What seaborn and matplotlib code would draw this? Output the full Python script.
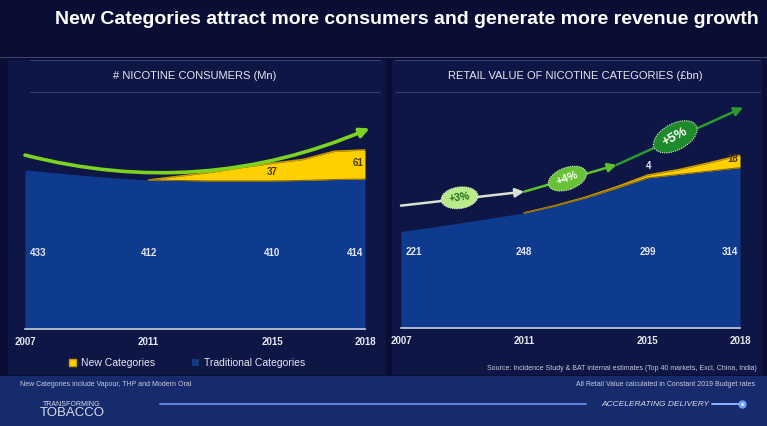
import seaborn as sns
from matplotlib import pyplot as plt
from matplotlib.patches import Patch, Rectangle
import numpy as np

years = list(range(2007, 2019))
consumers_trad = [433, 427, 421, 416, 412, 411, 410, 410, 410, 411, 413, 414]
consumers_new = [0, 0, 0, 0, 0, 9, 18, 28, 37, 44, 59, 61]
value_trad = [221, 227, 234, 241, 248, 258, 270, 284, 299, 304, 309, 314]
value_new = [0, 0, 0, 0, 0, 0.5, 1, 2, 4, 7, 12, 18]
label_years = [2007, 2011, 2015, 2018]
growth_labels = ['+3%', '+4%', '+5%']

BG = '#0a0e35'
TRAD = '#0f3b8e'
NEW = '#ffd000'
NEW_EDGE = '#c99a00'
TXT = '#e4e8f2'


def px(x, y):
    return x / 767, 1 - y / 426


def base_axis(ax):
    ax.set_facecolor('none')
    ax.set_xlim(2007, 2018)
    ax.set_xticks(years)
    ax.set_xticklabels([str(y) if y in label_years else '' for y in years])
    ax.set_yticks([])
    ax.grid(False)
    for s in ['top', 'left', 'right']:
        ax.spines[s].set_visible(False)
    ax.spines['bottom'].set_color('#c8ccd8')
    ax.spines['bottom'].set_linewidth(1.2)
    ax.tick_params(axis='x', direction='in', length=3, width=1, color='#c8ccd8',
                   labelcolor=TXT, labelsize=7, pad=6)
    for t in ax.get_xticklabels():
        t.set_fontweight('bold')
    ax.set_xlabel('')
    ax.set_ylabel('')


def stacked(ax, trad, new):
    trad = np.array(trad, float)
    top = trad + np.array(new, float)
    ax.fill_between(years, 0, trad, color=TRAD, lw=0, zorder=1)
    has_new = np.array(years) >= 2011
    ax.fill_between(years, trad, top, where=has_new, color=NEW, lw=0, zorder=2)
    sns.lineplot(x=np.array(years)[has_new], y=top[has_new], ax=ax, color=NEW_EDGE, lw=1.2, zorder=3)
    sns.lineplot(x=np.array(years)[has_new], y=trad[has_new], ax=ax, color='#8a6a00', lw=0.8, zorder=3)
    return trad, top


def trad_labels(ax, trad):
    tr = ax.get_xaxis_transform()
    for y in label_years:
        i = years.index(y)
        ha = 'left' if y == 2007 else ('right' if y == 2018 else 'center')
        x = y + (0.15 if y == 2007 else (-0.05 if y == 2018 else 0))
        ax.text(x, 0.325, f'{trad[i]:.0f}', transform=tr, ha=ha, va='center',
                color=TXT, fontsize=7, fontweight='bold')


sns.set_theme(style='dark')
plt.rcParams['font.family'] = ['Liberation Sans', 'DejaVu Sans']

fig = plt.figure(figsize=(7.67, 4.26), dpi=100, facecolor=BG)

# background panels and bands
for x0, w in [(8, 378), (392, 370)]:
    fig.patches.append(Rectangle(px(x0, 375), w / 767, 315 / 426, transform=fig.transFigure,
                                 facecolor='#0d1645', edgecolor='none', zorder=-2))
fig.patches.append(Rectangle(px(0, 426), 1, 50 / 426, transform=fig.transFigure,
                             facecolor='#172a6c', edgecolor='none', zorder=-2))
for x0, x1 in [(30, 380), (395, 760)]:
    for yy in (60, 92):
        fig.lines.append(plt.Line2D([x0 / 767, x1 / 767], [px(0, yy)[1]] * 2,
                                    transform=fig.transFigure, color='#5a6290', lw=0.6, alpha=0.7,
                                    zorder=-1))
fig.lines.append(plt.Line2D([0, 1], [px(0, 57)[1]] * 2, transform=fig.transFigure,
                            color='#4a4f78', lw=0.6, zorder=-1))

fig.text(*px(407, 19), 'New Categories attract more consumers and generate more revenue growth',
         ha='center', va='center', color='white', fontsize=14, fontweight='bold')
fig.text(*px(195, 76), '# NICOTINE CONSUMERS (Mn)', ha='center', va='center', color=TXT, fontsize=8)
fig.text(*px(575, 76), 'RETAIL VALUE OF NICOTINE CATEGORIES (\u00a3bn)', ha='center', va='center',
         color=TXT, fontsize=8)

# left panel
ax1 = fig.add_axes([25 / 767, 1 - 329 / 426, 340 / 767, 234 / 426])
ax1.set_ylim(100, 590)
trad, top = stacked(ax1, consumers_trad, consumers_new)
base_axis(ax1)
trad_labels(ax1, trad)
i15, i18 = years.index(2015), years.index(2018)
ax1.text(2015, (trad[i15] + top[i15]) / 2, f'{consumers_new[i15]}', ha='center', va='center',
         color='#4a3a00', fontsize=7, fontweight='bold', zorder=4)
ax1.text(2017.95, (trad[i18] + top[i18]) / 2 + 4, f'{consumers_new[i18]}', ha='right', va='center',
         color='#4a3a00', fontsize=7, fontweight='bold', zorder=4)
ax1.annotate('', xy=(2018.15, top[-1] * 1.095), xytext=(2007, trad[0] * 1.072),
             arrowprops=dict(arrowstyle='-|>', color='#7ed321', lw=2.6, mutation_scale=14,
                             connectionstyle='arc3,rad=0.17', shrinkA=0, shrinkB=0),
             annotation_clip=False, zorder=5)

# right panel
ax2 = fig.add_axes([401 / 767, 1 - 328 / 426, 339 / 767, 233 / 426])
ax2.set_ylim(80, 420)
trad2, top2 = stacked(ax2, value_trad, value_new)
base_axis(ax2)
trad_labels(ax2, trad2)
ax2.text(2015.05, top2[i15] + 6, f'{value_new[i15]}', ha='center', va='bottom',
         color=TXT, fontsize=7, fontweight='bold', zorder=4)
ax2.text(2017.95, (trad2[i18] + top2[i18]) / 2 + 3, f'{value_new[i18]}', ha='right', va='center',
         color='#4a3a00', fontsize=7, fontweight='bold', zorder=4)

# growth arrows
pts = [(2007, trad2[0] * 1.17), (2011, trad2[4] * 1.125), (2014, trad2[7] * 1.12),
       (2018.1, top2[-1] * 1.21)]
seg_cols = ['#d9e2d2', '#5cc22c', '#2a9a30']
for k in range(3):
    ax2.annotate('', xy=pts[k + 1], xytext=pts[k],
                 arrowprops=dict(arrowstyle='-|>', color=seg_cols[k], lw=1.8, mutation_scale=13,
                                 shrinkA=0, shrinkB=0),
                 annotation_clip=False, zorder=5)
badge_fill = ['#b9ea8c', '#67c236', '#1f8a2a']
badge_txt = ['#1f6a12', 'white', 'white']
badge_rot = [8, 20, 28]
badge_pos = [(2008.9, 270), (2012.4, 298), (2015.9, 359)]
badge_size = [7.5, 8, 9.5]
for k in range(3):
    ax2.text(*badge_pos[k], growth_labels[k], ha='center', va='center', rotation=badge_rot[k],
             color=badge_txt[k], fontsize=badge_size[k], fontweight='bold', zorder=6,
             bbox=dict(boxstyle='ellipse,pad=0.25', facecolor=badge_fill[k],
                       edgecolor='#d8f0c8', linestyle=(0, (1, 1)), lw=0.8))

# legend
handles = [Patch(facecolor=NEW, edgecolor=NEW_EDGE, label='New Categories'),
           Patch(facecolor='#163a80', edgecolor='none', label='Traditional Categories')]
fig.legend(handles=handles, loc='center', bbox_to_anchor=px(187, 363), ncol=2, frameon=False,
           fontsize=7.5, labelcolor=TXT, handlelength=0.7, handleheight=0.7, handletextpad=0.5,
           columnspacing=3.5)

fig.text(*px(757, 369), 'Source: Incidence Study & BAT internal estimates (Top 40 markets, Excl, China, India)',
         ha='right', va='center', color='#c8cce0', fontsize=5)
fig.text(*px(20, 385), 'New Categories include Vapour, THP and Modern Oral', ha='left', va='center',
         color='#c8cce0', fontsize=5)
fig.text(*px(755, 385), 'All Retail Value calculated in Constant 2019 Budget rates', ha='right',
         va='center', color='#c8cce0', fontsize=5)
fig.text(*px(43, 404), 'TRANSFORMING', ha='left', va='center', color='#d8dce8', fontsize=5)
fig.text(*px(40, 413), 'TOBACCO', ha='left', va='center', color='#d8dce8', fontsize=9.5)
fig.lines.append(plt.Line2D([160 / 767, 586 / 767], [px(0, 404)[1]] * 2, transform=fig.transFigure,
                            color='#6a8ee8', lw=1.4, alpha=0.9))
fig.lines.append(plt.Line2D([712 / 767, 740 / 767], [px(0, 404)[1]] * 2, transform=fig.transFigure,
                            color='#8ab0ff', lw=1.4))
fig.lines.append(plt.Line2D([742 / 767], [px(0, 404)[1]], transform=fig.transFigure, marker='o',
                            color='white', markersize=4, markeredgecolor='#6fa0ff', markeredgewidth=2))
fig.text(*px(655, 405), 'ACCELERATING DELIVERY', ha='center', va='center', color='#d8dce8',
         fontsize=6, style='italic')

fig.savefig('out.png', facecolor=BG)
